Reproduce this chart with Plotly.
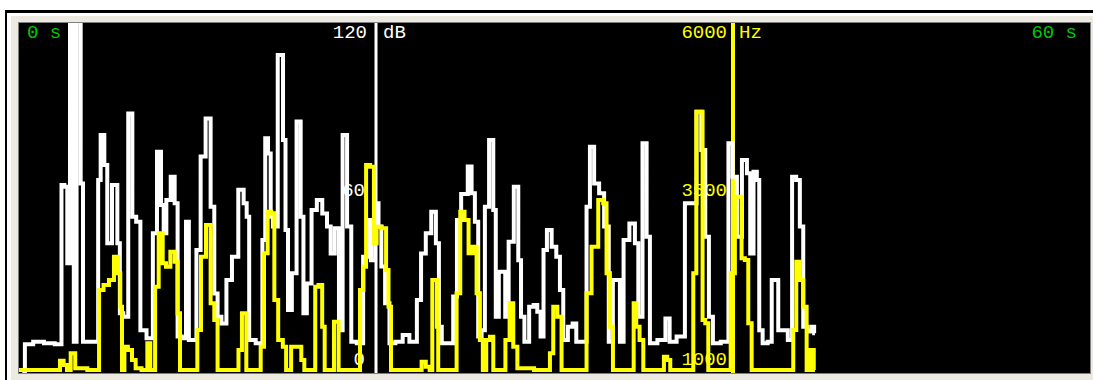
import plotly.graph_objects as go

# ---- data ----
# white trace: level in dB over time (s)
level_t = [0.19, 0.47, 1.12, 1.68, 2.33, 2.43, 2.65, 2.76, 2.95, 2.995, 3.145, 3.305, 3.40, 3.51, 3.66, 4.39, 4.48, 4.67, 4.89, 5.00,
           5.42, 5.60, 5.70, 5.98, 6.26, 6.44, 6.69, 6.91, 7.38, 7.62, 7.84, 8.07, 8.14, 8.37, 8.63, 8.81, 8.96,
           9.28, 9.43, 9.60, 9.80, 10.08, 10.27, 10.64, 10.83, 11.05, 11.20, 11.48, 11.76, 12.10, 12.47, 12.70,
           12.81, 12.98, 13.54, 13.73, 13.86, 14.04, 14.16, 14.29, 14.70, 14.88, 14.98, 15.16, 15.41, 15.69,
           15.87, 16.00, 16.25, 16.53, 16.84, 17.14, 17.37, 17.55, 17.83, 18.02, 18.24, 18.52, 18.71, 19.14,
           19.42, 19.61, 19.83, 20.07, 20.21, 20.39, 20.63, 20.88, 21.29, 21.70, 22.04,
           22.18, 22.40, 22.65, 22.93, 23.26, 23.45, 23.60, 23.77, 24.23, 24.42, 24.65, 24.89, 25.02, 25.26,
           25.45, 25.63, 25.82, 26.01, 26.19, 26.48, 26.66, 26.76, 27.00, 27.18, 27.30, 27.56, 27.88, 28.06,
           28.19, 28.44, 28.72, 28.94, 29.13, 29.31, 29.46, 29.69, 29.99, 30.21, 30.40, 30.58, 30.92, 31.11,
           31.33, 31.70, 31.89, 32.08, 32.36, 32.64, 32.92, 33.16, 33.38, 33.57, 33.76, 33.98, 34.41, 34.60,
           34.79, 35.07, 35.25, 35.44, 36.09, 36.34, 36.56, 37.12, 37.49, 37.83, 38.09, 38.35, 38.54, 38.76,
           38.99, 39.64, 39.85, 40.11, 40.33, 40.67, 40.89, 41.04, 41.26, 41.41, 41.53, 41.79, 42.09, 42.25,
           42.44, 42.63, 42.95, 43.19, 43.43, 43.65, 43.84, 44.03, 44.31, 44.50, 44.59]
level_db = [0.5, 9.9, 10.7, 10.2, 9.9, 64.5, 63.9, 37.6, 121, 121, 10.7, 121, 121, 65.0, 10.7, 10.7, 66.2, 81.6, 71.3, 44.5,
            64.5, 44.5, 20.5, 19.3, 89.0, 53.6, 51.9, 14.7, 11.9, 47.9, 75.9, 57.6, 47.9, 59.3, 67.3, 58.2, 12.5,
            11.9, 51.9, 11.3, 11.3, 42.2, 74.2, 87.3, 57.0, 27.3, 19.3, 17.0, 31.9, 39.9, 62.8, 58.2,
            53.6, 11.3, 10.2, 45.6, 80.5, 75.3, 53.6, 50.2, 109.0, 79.9, 49.0, 21.6, 34.2, 86.2,
            53.6, 20.5, 30.7, 55.9, 59.3, 54.7, 50.2, 41.0, 49.6, 14.7, 81.6, 50.2, 10.7, 10.2,
            39.9, 52.5, 38.7, 58.2, 50.2, 36.5, 23.9, 10.2, 10.7, 13.0, 10.7,
            10.7, 25.0, 41.0, 47.9, 55.3, 44.5, 15.9, 10.2, 10.2, 26.2, 52.5, 61.4, 61.4, 70.8,
            61.6, 51.9, 12.5, 14.7, 57.0, 79.9, 55.9, 19.3, 34.7, 34.7, 19.3, 45.0, 63.9, 38.7,
            19.3, 10.7, 22.7, 23.3, 21.0, 12.5, 42.2, 49.0, 43.3, 39.9, 28.5, 11.3, 15.9, 17.0,
            10.7, 10.7, 57.0, 77.6, 65.0, 61.6, 50.2, 10.7, 31.9, 31.9, 10.7, 45.6, 51.3, 44.5,
            19.3, 78.8, 46.7, 10.2, 11.3, 18.7, 10.7, 12.5, 58.2, 58.2, 89.6, 76.5, 46.7, 19.3,
            10.2, 10.7, 78.8, 67.3, 46.7, 73.0, 68.5, 41.0, 69.0, 66.2, 14.7, 10.2, 10.7, 31.9,
            31.9, 14.7, 14.7, 11.3, 67.3, 66.2, 50.2, 15.9, 14.2, 15.9, 13.6]

# yellow trace: pitch in Hz over time (s)
pitch_t = [0.0, 2.20, 2.39, 2.61, 2.76, 3.03, 3.27, 4.39, 4.58, 4.89, 5.19, 5.45, 5.64, 5.71, 5.83, 5.98, 6.22,
           6.44, 6.63, 7.10, 7.28, 7.43, 7.56, 7.69, 7.96, 8.14, 8.33, 8.63, 8.81, 8.96, 9.08, 9.90, 10.08,
           10.31, 10.64, 10.83, 11.05, 11.20, 12.23, 12.36, 12.62, 12.85, 13.45, 13.63, 13.82, 14.04, 14.23,
           14.38, 14.66, 14.90, 15.03, 15.46, 15.72, 15.91, 16.06, 16.53, 16.66, 16.90, 17.07, 17.18, 17.59,
           17.70, 17.85, 17.96, 19.01, 19.20, 19.38, 19.51, 19.83, 19.94, 20.13, 20.50, 20.63, 20.77, 20.91,
           22.46, 22.65, 22.93, 23.08, 23.23, 23.38, 23.45, 23.52, 24.42, 24.61, 24.83, 25.09, 25.28, 25.54,
           25.73, 25.91, 26.06, 26.29, 26.48, 26.66, 27.13, 27.37, 27.60, 27.78, 28.06, 29.65, 29.84, 30.02,
           30.30, 30.49, 31.70, 31.89, 32.26, 32.64, 32.82, 33.01, 33.20, 33.35, 34.36, 34.51, 34.65, 34.88,
           35.07, 36.04, 36.22, 36.41, 36.56, 37.68, 37.87, 38.02, 38.24, 38.35, 38.54, 38.69, 39.73, 40.01,
           40.20, 40.39, 40.57, 40.76, 40.95, 41.14, 43.28, 43.47, 43.62, 43.84, 44.03, 44.22, 44.46, 44.59]
pitch_hz = [1043, 1043, 1176, 1114, 1043, 1281, 1067, 1043, 2186, 2257, 2329, 2662, 2424, 1948, 1043, 1376, 1329,
            1186, 1067, 1043, 1424, 1043, 1043, 2233, 2995, 2567, 2519, 2733, 2590, 1852, 1043, 1043, 1614,
            2662, 3114, 1995, 1757, 1043, 1043, 1329, 1852, 1043, 1043, 1376, 2710, 3305, 3281,
            2043, 1471, 1376, 1043, 1376, 1376, 1186, 1043, 1043, 2233, 2257, 1662, 1043, 1043,
            1733, 1733, 1043, 1043, 2186, 2519, 3971, 3948, 2852, 3090, 3067, 2471, 1948, 1043,
            1043, 1162, 1090, 1043, 2329, 2329, 1662, 1043, 1043, 2138, 3305, 3186, 2710, 2805,
            2138, 1471, 1043, 1471, 1519, 1043, 1043, 1471, 1995, 1376, 1067, 1043, 1281, 1948,
            1805, 1043, 1043, 2138, 2805, 3471, 3424, 2424, 1662, 1043, 1043, 1995, 1662, 1471,
            1043, 1043, 1233, 1186, 1043, 1043, 2424, 4733, 4733, 1757, 1710, 1043, 1043, 2424,
            3519, 3519, 2638, 2614, 1710, 1043, 1043, 1614, 2590, 2329, 1948, 1043, 1329, 1043]

time_range = [0, 60]
db_range = [0, 120]
hz_range = [1000, 6000]
cursor_level_t = 20
cursor_pitch_t = 40

# scale labels
time_labels = ["0 s", "60 s"]
db_labels = ["120", "60", "0"]
hz_labels = ["6000", "3500", "1000"]

# ---- styling ----
W, H = 1093, 380
ML, MR, MT, MB = 19, 3, 23, 7
PW, PH = W - ML - MR, H - MT - MB
GREEN = "#00C800"
YELLOW = "#FFFF00"
WHITE = "#FFFFFF"
BEIGE = "#ECE9E1"
FONT = "Liberation Mono"
FS = 19


def px_t(X):
    return time_range[0] + (X - ML) / PW * (time_range[1] - time_range[0])


def px_db(Y):
    return db_range[0] + (MT + PH - Y) / PH * (db_range[1] - db_range[0])


def xp(X):
    return (X - ML) / PW


def yp(Y):
    return (MT + PH - Y) / PH


fig = go.Figure()

# cursors
fig.add_trace(go.Scatter(x=[cursor_level_t, cursor_level_t], y=db_range, mode="lines",
                         line=dict(color=WHITE, width=3), hoverinfo="skip"))
fig.add_trace(go.Scatter(x=[cursor_pitch_t, cursor_pitch_t], y=db_range, mode="lines",
                         line=dict(color=YELLOW, width=4), hoverinfo="skip"))


def label(text, X, Y, color, pos):
    fig.add_trace(go.Scatter(
        x=[px_t(X)], y=[px_db(Y)], mode="text", text=[text], textposition=pos,
        textfont=dict(family=FONT, size=FS, color=color), hoverinfo="skip", cliponaxis=False))


label(time_labels[0], 27, 33, GREEN, "middle right")
label(time_labels[1], 1077, 33, GREEN, "middle left")
label(db_labels[0], 367, 33, WHITE, "middle left")
label("dB", 383, 33, WHITE, "middle right")
label(hz_labels[0], 727, 33, YELLOW, "middle left")
label("Hz", 739, 33, YELLOW, "middle right")
label(db_labels[1], 365, 191, WHITE, "middle left")
label(hz_labels[1], 727, 191, YELLOW, "middle left")
label(db_labels[2], 365, 360, WHITE, "middle left")
label(hz_labels[2], 727, 360, YELLOW, "middle left")

# data
fig.add_trace(go.Scatter(x=level_t, y=level_db, mode="lines",
                         line=dict(color=WHITE, width=4, shape="hvh"), hoverinfo="skip"))
fig.add_trace(go.Scatter(x=pitch_t, y=pitch_hz, mode="lines", yaxis="y2",
                         line=dict(color=YELLOW, width=4, shape="hvh"), hoverinfo="skip"))

shapes = [
    dict(type="rect", xref="paper", yref="paper", x0=xp(5), x1=xp(1110), y0=yp(400), y1=yp(10),
         fillcolor="#000000", line=dict(width=0), layer="below"),
    dict(type="rect", xref="paper", yref="paper", x0=xp(7), x1=xp(1110), y0=yp(400), y1=yp(13),
         fillcolor="#FFFFFF", line=dict(width=0), layer="below"),
    dict(type="rect", xref="paper", yref="paper", x0=xp(11), x1=xp(1110), y0=yp(400), y1=yp(16),
         fillcolor=BEIGE, line=dict(width=0), layer="below"),
    dict(type="rect", xref="paper", yref="paper", x0=xp(18), x1=xp(1091), y0=yp(374), y1=yp(22),
         fillcolor="#808080", line=dict(width=0), layer="below"),
    dict(type="rect", xref="paper", yref="paper", x0=0, x1=1, y0=0, y1=1,
         fillcolor="#000000", line=dict(width=0), layer="below"),
]

ax = dict(visible=False, showgrid=False, zeroline=False, fixedrange=True)
fig.update_layout(
    width=W, height=H, autosize=False,
    margin=dict(l=ML, r=MR, t=MT, b=MB, pad=0),
    paper_bgcolor="#FFFFFF", plot_bgcolor="#000000",
    showlegend=False,
    xaxis=dict(ax, range=time_range),
    yaxis=dict(ax, range=db_range),
    yaxis2=dict(ax, range=hz_range, overlaying="y"),
    shapes=shapes,
)

fig.write_html("out.html")
